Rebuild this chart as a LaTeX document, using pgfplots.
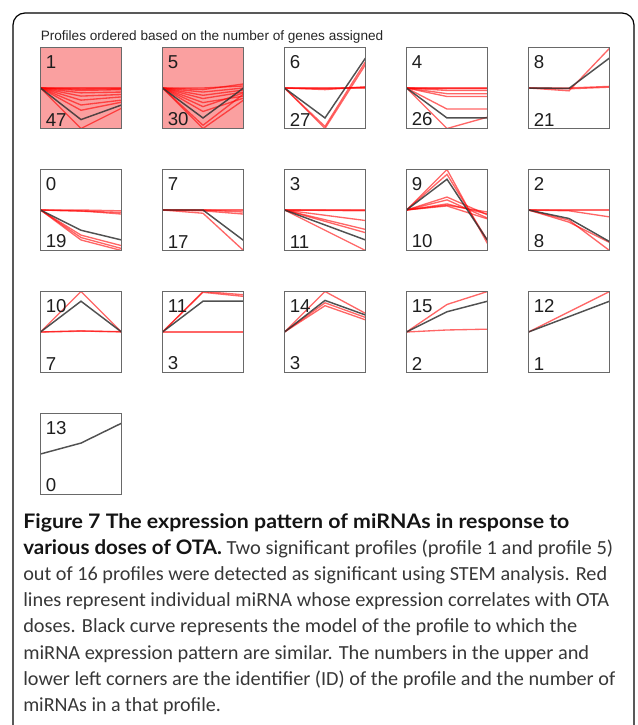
\documentclass[border=0pt]{standalone}
\usepackage{graphicx}
\usepackage{pgfplots}
\pgfplotsset{compat=1.18}
\usepackage{fontspec}
\setmainfont{Carlito}
\newfontfamily\arialf{Liberation Sans}
\newfontfamily\capbf{Lato}

\definecolor{pinkbg}{RGB}{250,160,160}
\definecolor{boxgray}{RGB}{105,105,105}
\definecolor{lblgray}{RGB}{30,30,30}
\definecolor{captxt}{RGB}{55,55,55}

\pgfplotsset{
  prof/.style={
    width=60.75pt, height=60.75pt, scale only axis,
    xmin=0, xmax=2, ymin=-1, ymax=1,
    xtick=\empty, ytick=\empty,
    axis line style={draw=boxgray, line width=1.1pt},
    axis on top, anchor=north west,
  },
  sig/.style={axis background/.style={fill=pinkbg}},
  redl/.style={red, line width=1pt, opacity=0.6},
  blkl/.style={black!80, line width=1.1pt, opacity=0.85},
}
\tikzset{
  idl/.style={anchor=north west, inner sep=0pt, xshift=3.8pt, yshift=-6pt,
    font=\arialf\fontsize{14}{14}\selectfont, text=lblgray},
  cntl/.style={anchor=south west, inner sep=0pt, xshift=3.8pt, yshift=1.6pt,
    font=\arialf\fontsize{14}{14}\selectfont, text=lblgray},
}
% one caption line stretched to the width it has in the figure
\newcommand\capline[3]{\node at (17.25pt,#1) {\resizebox{#2}{\height}{#3}};}
\newcommand\capb[1]{{\capbf\bfseries\color{black!92}#1}}

\begin{document}
\begin{tikzpicture}
\useasboundingbox (0,0) rectangle (477.75pt,-543.75pt);
\draw[rounded corners=9pt, line width=0.9pt] (9.75pt,-600pt) rectangle (475.5pt,-9.75pt);
\node[anchor=base west, inner sep=0pt, font=\arialf\fontsize{10.2}{12}\selectfont, text=black!85]
  at (30.375pt,-30.5pt) {Profiles ordered based on the number of genes assigned};

% row 1
\begin{axis}[prof, sig, at={(30.375pt,-35.625pt)}]
\addplot[redl] coordinates {(0,0)(1,0)(2,0)};
\addplot[redl] coordinates {(0,0)(1,-0.03)(2,-0.02)};
\addplot[redl] coordinates {(0,0)(1,-0.06)(2,-0.04)};
\addplot[redl] coordinates {(0,0)(1,-0.12)(2,-0.1)};
\addplot[redl] coordinates {(0,0)(1,-0.2)(2,-0.16)};
\addplot[redl] coordinates {(0,0)(1,-0.3)(2,-0.22)};
\addplot[redl] coordinates {(0,0)(1,-0.42)(2,-0.3)};
\addplot[redl] coordinates {(0,0)(1,-0.55)(2,-0.35)};
\addplot[redl] coordinates {(0,0)(1,-1)(2,-0.5)};
\addplot[blkl] coordinates {(0,0)(1,-0.78)(2,-0.42)};
\node[idl] at (rel axis cs:0,1) {1};
\node[cntl] at (rel axis cs:0,0) {47};
\end{axis}

\begin{axis}[prof, sig, at={(121.875pt,-35.625pt)}]
\addplot[redl] coordinates {(0,0)(1,0)(2,0.05)};
\addplot[redl] coordinates {(0,0)(1,-0.04)(2,0.1)};
\addplot[redl] coordinates {(0,0)(1,-0.1)(2,0)};
\addplot[redl] coordinates {(0,0)(1,-0.18)(2,-0.05)};
\addplot[redl] coordinates {(0,0)(1,-0.26)(2,-0.1)};
\addplot[redl] coordinates {(0,0)(1,-0.36)(2,-0.2)};
\addplot[redl] coordinates {(0,0)(1,-0.46)(2,-0.12)};
\addplot[redl] coordinates {(0,0)(1,-0.58)(2,-0.25)};
\addplot[redl] coordinates {(0,0)(1,-1)(2,-0.3)};
\addplot[redl] coordinates {(0,0)(1,-0.92)(2,-0.15)};
\addplot[blkl] coordinates {(0,0)(1,-0.74)(2,0)};
\node[idl] at (rel axis cs:0,1) {5};
\node[cntl] at (rel axis cs:0,0) {30};
\end{axis}

\begin{axis}[prof, at={(213.375pt,-35.625pt)}]
\addplot[redl] coordinates {(0,0)(1,-0.02)(2,0.02)};
\addplot[redl] coordinates {(0,0)(1,-0.04)(2,0.03)};
\addplot[redl] coordinates {(0,0)(1,0)(2,0)};
\addplot[redl] coordinates {(0,0)(1,-1)(2,0.58)};
\addplot[redl] coordinates {(0,0)(1,-0.95)(2,0.65)};
\addplot[blkl] coordinates {(0,0)(1,-0.74)(2,0.74)};
\node[idl] at (rel axis cs:0,1) {6};
\node[cntl] at (rel axis cs:0,0) {27};
\end{axis}

\begin{axis}[prof, at={(304.875pt,-35.625pt)}]
\addplot[redl] coordinates {(0,0)(1,0)(2,0)};
\addplot[redl] coordinates {(0,0)(1,-0.02)(2,-0.02)};
\addplot[redl] coordinates {(0,0)(1,-0.06)(2,-0.06)};
\addplot[redl] coordinates {(0,0)(1,-0.14)(2,-0.14)};
\addplot[redl] coordinates {(0,0)(1,-0.21)(2,-0.21)};
\addplot[redl] coordinates {(0,0)(1,-0.52)(2,-0.52)};
\addplot[redl] coordinates {(0,0)(1,-1)(2,-0.72)};
\addplot[blkl] coordinates {(0,0)(1,-0.74)(2,-0.74)};
\node[idl] at (rel axis cs:0,1) {4};
\node[cntl] at (rel axis cs:0,0) {26};
\end{axis}

\begin{axis}[prof, at={(396.375pt,-35.625pt)}]
\addplot[redl] coordinates {(0,0)(1,0)(2,0.04)};
\addplot[redl] coordinates {(0,0)(1,-0.02)(2,0.02)};
\addplot[redl] coordinates {(0,0)(1,-0.07)(2,0.98)};
\addplot[blkl] coordinates {(0,0)(1,-0.01)(2,0.74)};
\node[idl] at (rel axis cs:0,1) {8};
\node[cntl] at (rel axis cs:0,0) {21};
\end{axis}

% row 2
\begin{axis}[prof, at={(30.375pt,-127.125pt)}]
\addplot[redl] coordinates {(0,0)(1,0)(2,-0.02)};
\addplot[redl] coordinates {(0,0)(1,-0.03)(2,-0.06)};
\addplot[redl] coordinates {(0,0)(1,-0.02)(2,-0.1)};
\addplot[redl] coordinates {(0,0)(1,-0.62)(2,-0.88)};
\addplot[redl] coordinates {(0,0)(1,-0.68)(2,-0.95)};
\addplot[redl] coordinates {(0,0)(1,-0.74)(2,-1)};
\addplot[blkl] coordinates {(0,0)(1,-0.5)(2,-0.74)};
\node[idl] at (rel axis cs:0,1) {0};
\node[cntl] at (rel axis cs:0,0) {19};
\end{axis}

\begin{axis}[prof, at={(121.875pt,-127.125pt)}]
\addplot[redl] coordinates {(0,0)(1,0)(2,0)};
\addplot[redl] coordinates {(0,0)(1,0)(2,-0.05)};
\addplot[redl] coordinates {(0,0)(1,-0.02)(2,-0.1)};
\addplot[redl] coordinates {(0,0)(1,-0.08)(2,-1)};
\addplot[blkl] coordinates {(0,0)(1,0)(2,-0.75)};
\node[idl] at (rel axis cs:0,1) {7};
\node[cntl] at (rel axis cs:0,0) {17};
\end{axis}

\begin{axis}[prof, at={(213.375pt,-127.125pt)}]
\addplot[redl] coordinates {(0,0)(1,0)(2,0)};
\addplot[redl] coordinates {(0,0)(1,-0.01)(2,-0.02)};
\addplot[redl] coordinates {(0,0)(1,-0.13)(2,-0.26)};
\addplot[redl] coordinates {(0,0)(1,-0.24)(2,-0.48)};
\addplot[redl] coordinates {(0,0)(1,-0.28)(2,-0.56)};
\addplot[redl] coordinates {(0,0)(1,-0.5)(2,-1)};
\addplot[blkl] coordinates {(0,0)(1,-0.37)(2,-0.74)};
\node[idl] at (rel axis cs:0,1) {3};
\node[cntl] at (rel axis cs:0,0) {11};
\end{axis}

\begin{axis}[prof, at={(304.875pt,-127.125pt)}]
\addplot[redl] coordinates {(0,0)(1,1)(2,-0.83)};
\addplot[redl] coordinates {(0,0)(1,0.88)(2,-0.75)};
\addplot[redl] coordinates {(0,0)(1,0.32)(2,-0.12)};
\addplot[redl] coordinates {(0,0)(1,0.25)(2,-0.2)};
\addplot[redl] coordinates {(0,0)(1,0.15)(2,-0.1)};
\addplot[redl] coordinates {(0,0)(1,0.1)(2,-0.22)};
\addplot[redl] coordinates {(0,0)(1,0.12)(2,-0.05)};
\addplot[blkl] coordinates {(0,0)(1,0.76)(2,-0.75)};
\node[idl] at (rel axis cs:0,1) {9};
\node[cntl] at (rel axis cs:0,0) {10};
\end{axis}

\begin{axis}[prof, at={(396.375pt,-127.125pt)}]
\addplot[redl] coordinates {(0,0)(1,0)(2,0)};
\addplot[redl] coordinates {(0,0)(1,-0.02)(2,-0.17)};
\addplot[redl] coordinates {(0,0)(1,-0.25)(2,-1)};
\addplot[redl] coordinates {(0,0)(1,-0.3)(2,-0.8)};
\addplot[blkl] coordinates {(0,0)(1,-0.21)(2,-0.78)};
\node[idl] at (rel axis cs:0,1) {2};
\node[cntl] at (rel axis cs:0,0) {8};
\end{axis}

% row 3
\begin{axis}[prof, at={(30.375pt,-218.625pt)}]
\addplot[redl] coordinates {(0,0)(1,1)(2,0)};
\addplot[redl] coordinates {(0,0)(1,0.03)(2,0)};
\addplot[redl] coordinates {(0,0)(1,0.02)(2,0.01)};
\addplot[blkl] coordinates {(0,0)(1,0.76)(2,0)};
\node[idl] at (rel axis cs:0,1) {10};
\node[cntl] at (rel axis cs:0,0) {7};
\end{axis}

\begin{axis}[prof, at={(121.875pt,-218.625pt)}]
\addplot[redl] coordinates {(0,0)(1,0)(2,0)};
\addplot[redl] coordinates {(0,0)(1,1)(2,0.92)};
\addplot[redl] coordinates {(0,0)(1,0.98)(2,0.88)};
\addplot[blkl] coordinates {(0,0)(1,0.76)(2,0.76)};
\node[idl] at (rel axis cs:0,1) {11};
\node[cntl] at (rel axis cs:0,0) {3};
\end{axis}

\begin{axis}[prof, at={(213.375pt,-218.625pt)}]
\addplot[redl] coordinates {(0,0)(1,1)(2,0.46)};
\addplot[redl] coordinates {(0,0)(1,0.65)(2,0.3)};
\addplot[redl] coordinates {(0,0)(1,0.72)(2,0.36)};
\addplot[blkl] coordinates {(0,0)(1,0.78)(2,0.42)};
\node[idl] at (rel axis cs:0,1) {14};
\node[cntl] at (rel axis cs:0,0) {3};
\end{axis}

\begin{axis}[prof, at={(304.875pt,-218.625pt)}]
\addplot[redl] coordinates {(0,0)(1,0.68)(2,1)};
\addplot[redl] coordinates {(0,0)(1,0.05)(2,0.07)};
\addplot[blkl] coordinates {(0,0)(1,0.5)(2,0.76)};
\node[idl] at (rel axis cs:0,1) {15};
\node[cntl] at (rel axis cs:0,0) {2};
\end{axis}

\begin{axis}[prof, at={(396.375pt,-218.625pt)}]
\addplot[redl] coordinates {(0,0)(1,0.5)(2,1)};
\addplot[blkl] coordinates {(0,0)(1,0.38)(2,0.76)};
\node[idl] at (rel axis cs:0,1) {12};
\node[cntl] at (rel axis cs:0,0) {1};
\end{axis}

% row 4
\begin{axis}[prof, at={(30.375pt,-310.125pt)}]
\addplot[blkl] coordinates {(0,0)(1,0.27)(2,0.76)};
\node[idl] at (rel axis cs:0,1) {13};
\node[cntl] at (rel axis cs:0,0) {0};
\end{axis}

% caption
\begin{scope}[every node/.style={anchor=base west, inner sep=0pt,
    font=\fontsize{15}{17}\selectfont, text=captxt}]
\capline{-396pt}{409.5pt}{\capb{Figure 7 The expression pattern of miRNAs in response to}}
\capline{-415.5pt}{442.5pt}{\capb{various doses of OTA.} Two significant profiles (profile 1 and profile 5)}
\capline{-435pt}{438pt}{out of 16 profiles were detected as significant using STEM analysis. Red}
\capline{-454.5pt}{439.5pt}{lines represent individual miRNA whose expression correlates with OTA}
\capline{-474pt}{415.5pt}{doses. Black curve represents the model of the profile to which the}
\capline{-494.25pt}{424.5pt}{miRNA expression pattern are similar. The numbers in the upper and}
\capline{-513.75pt}{444pt}{lower left corners are the identifier (ID) of the profile and the number of}
\node at (17.25pt,-533.25pt) {miRNAs in a that profile.};
\end{scope}
\end{tikzpicture}
\end{document}
